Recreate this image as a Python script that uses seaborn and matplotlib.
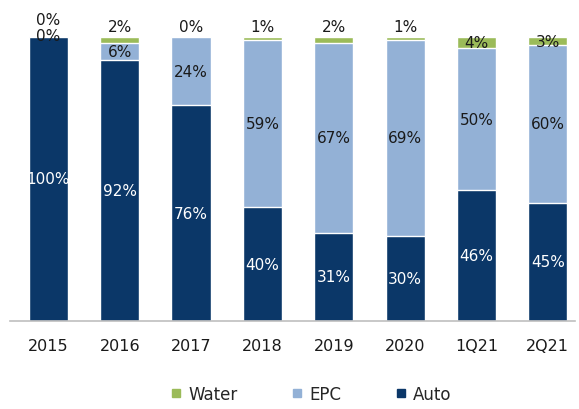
import matplotlib
matplotlib.use("Agg")
import matplotlib.pyplot as plt
import seaborn as sns
import pandas as pd
import numpy as np
from matplotlib.lines import Line2D

categories = ["2015", "2016", "2017", "2018", "2019", "2020", "1Q21", "2Q21"]
auto = [100, 92, 76, 40, 31, 30, 46, 45]
epc = [0, 6, 24, 59, 67, 69, 50, 60]
water = [0, 2, 0, 1, 2, 1, 4, 3]

c_auto = "#0b3768"
c_epc = "#93b1d6"
c_water = "#9bbb59"

sns.set_theme(style="white")
plt.rcParams["font.family"] = ["DejaVu Sans"]

a = np.array(auto, float)
e = np.array(epc, float)
w = np.array(water, float)
tot = a + e + w
sa, se, sw = a / tot, e / tot, w / tot

df = pd.DataFrame({"cat": categories, "l3": sa + se + sw, "l2": sa + se, "l1": sa})

fig = plt.figure(figsize=(5.79, 4.10), dpi=100)
ax = fig.add_axes([0.017, 0.215, 0.976, 0.692])

for col, color in [("l3", c_water), ("l2", c_epc), ("l1", c_auto)]:
    sns.barplot(data=df, x="cat", y=col, order=categories, color=color,
                width=0.55, edgecolor="white", linewidth=1, saturation=1, ax=ax)

fs = 11
for i in range(len(categories)):
    ax.text(i, sa[i] / 2, f"{auto[i]}%", ha="center", va="center", color="white", fontsize=fs)
    if epc[i] > 0:
        ax.text(i, sa[i] + se[i] / 2, f"{epc[i]}%", ha="center", va="center", color="#1a1a1a", fontsize=fs)
    else:
        ax.text(i, sa[i] + 0.005, f"{epc[i]}%", ha="center", va="center", color="#1a1a1a", fontsize=fs, clip_on=False)
    if water[i] >= 3:
        ax.text(i, sa[i] + se[i] + sw[i] / 2, f"{water[i]}%", ha="center", va="center", color="#1a1a1a", fontsize=fs)
    else:
        off = 0.035 if epc[i] == 0 and i == 0 else 0.012
        ax.text(i, 1.0 + off, f"{water[i]}%", ha="center", va="bottom", color="#1a1a1a", fontsize=fs, clip_on=False)

ax.set_ylim(0, 1)
ax.set_xlim(-0.54, 7.38)
ax.set_xlabel("")
ax.set_ylabel("")
ax.set_yticks([])
for s in ["top", "right", "left"]:
    ax.spines[s].set_visible(False)
ax.spines["bottom"].set_color("#bfbfbf")
ax.spines["bottom"].set_linewidth(1.2)
ax.tick_params(axis="x", length=0, pad=12, labelsize=11.5, labelcolor="#1a1a1a")

handles = [Line2D([], [], marker="s", linestyle="", color=c, markersize=5.5) for c in (c_water, c_epc, c_auto)]
fig.legend(handles, ["Water", "EPC", "Auto"], loc="center", bbox_to_anchor=(0.537, 0.036),
           ncol=3, frameon=False, fontsize=12, handlelength=0.7, handletextpad=0.4,
           columnspacing=3.2)

fig.savefig("out.png", dpi=100)
